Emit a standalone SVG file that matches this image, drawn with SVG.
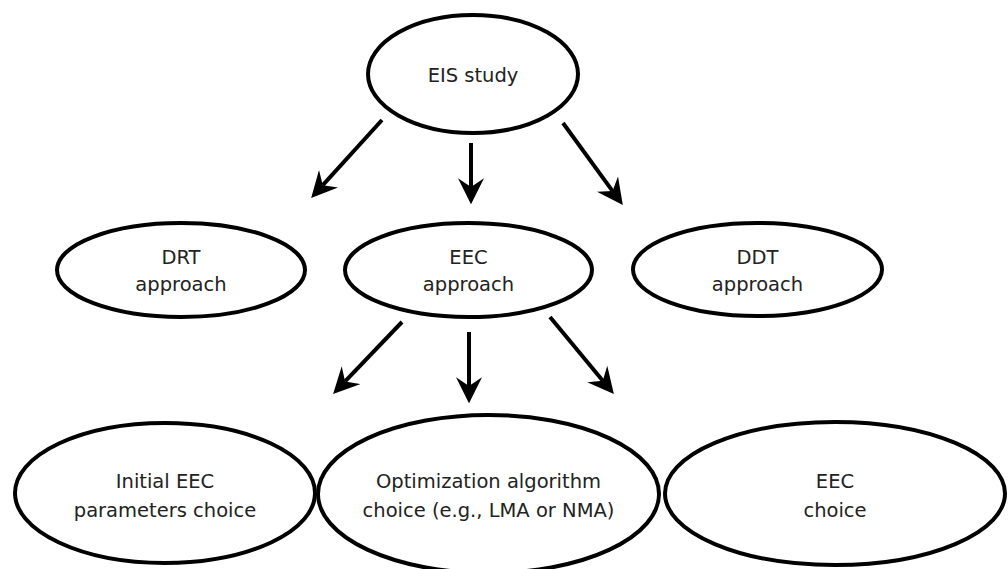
<svg xmlns="http://www.w3.org/2000/svg" width="1008" height="569" viewBox="0 0 1008 569">
<style>
.node ellipse{fill:#fff;stroke:#000;stroke-width:4}
.node text{font-family:"DejaVu Sans","Liberation Sans",sans-serif;font-size:19.5px;fill:#222;text-anchor:middle}
.conn path{fill:none;stroke:#000;stroke-width:4}
</style>
<defs>
<marker id="ah" markerUnits="userSpaceOnUse" markerWidth="26" markerHeight="26" viewBox="0 0 24 24" refX="8" refY="12" orient="auto">
<path d="M0,0 L24,12 L0,24 L8,12 z" fill="#000"/>
</marker>
</defs>
<rect width="1008" height="569" fill="#fff"/>
<g id="n-eis" class="node">
<ellipse cx="473" cy="74" rx="105" ry="59"/>
<text x="473" y="82">EIS study</text>
</g>
<g id="n-drt" class="node">
<ellipse cx="181" cy="270" rx="124" ry="47"/>
<text x="181" y="264">DRT</text>
<text x="181" y="291">approach</text>
</g>
<g id="n-eec" class="node">
<ellipse cx="468.5" cy="270" rx="123.5" ry="47"/>
<text x="468.5" y="264">EEC</text>
<text x="468.5" y="291">approach</text>
</g>
<g id="n-ddt" class="node">
<ellipse cx="757.5" cy="269.5" rx="124.5" ry="46.5"/>
<text x="757.5" y="264">DDT</text>
<text x="757.5" y="291">approach</text>
</g>
<g id="n-init" class="node">
<ellipse cx="165" cy="493" rx="150" ry="70"/>
<text x="165" y="488">Initial EEC</text>
<text x="165" y="517">parameters choice</text>
</g>
<g id="n-opt" class="node">
<ellipse cx="488.5" cy="494" rx="170.5" ry="79"/>
<text x="488.5" y="488">Optimization algorithm</text>
<text x="488.5" y="517">choice (e.g., LMA or NMA)</text>
</g>
<g id="n-eecc" class="node">
<ellipse cx="835" cy="493.5" rx="170" ry="71.5"/>
<text x="835" y="488">EEC</text>
<text x="835" y="517">choice</text>
</g>
<g id="connectors" class="conn">
<path d="M382,120 L322.8,185.2" marker-end="url(#ah)"/>
<path d="M471,143 L471,187" marker-end="url(#ah)"/>
<path d="M563,123 L612.6,191.1" marker-end="url(#ah)"/>
<path d="M402,322 L345.1,381.4" marker-end="url(#ah)"/>
<path d="M469,332 L469,386" marker-end="url(#ah)"/>
<path d="M550,317 L602.8,380.7" marker-end="url(#ah)"/>
</g>
</svg>
